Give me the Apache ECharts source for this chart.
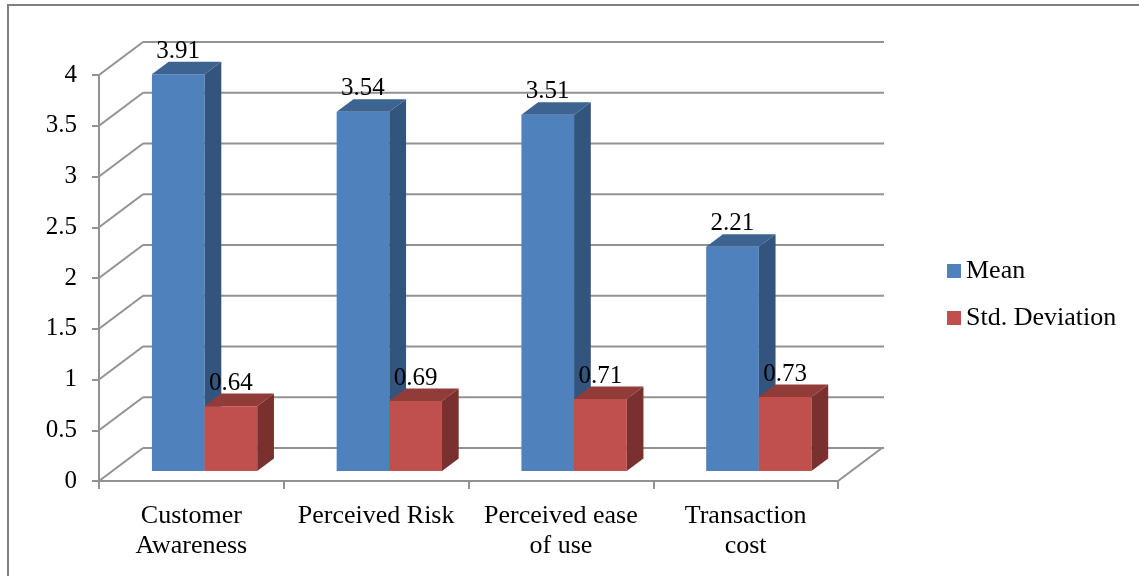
<!DOCTYPE html>
<html>
<head>
    <meta charset="utf-8" />
    <title></title>
    <script src="https://cdn.jsdelivr.net/npm/echarts@6/dist/echarts.min.js"></script>
    <style>
        html, body { margin: 0; padding: 0; background: #fff; }
    </style>
</head>
<body>
    <div id="divChart" style="width:1139px;height:576px;"></div>
    <script>
        let categories = ['Customer\nAwareness', 'Perceived Risk', 'Perceived ease\nof use', 'Transaction\ncost'];
        let meanData = [3.91, 3.54, 3.51, 2.21];
        let stdData = [0.64, 0.69, 0.71, 0.73];
        let yTicks = [0, 0.5, 1, 1.5, 2, 2.5, 3, 3.5, 4];

        // 伪3D深度
        let DX = 44, DY = -33;
        let FONT = 'Liberation Serif, Times New Roman, serif';

        function wallItem(params, api) {
            var cs = params.coordSys;
            var v = api.value(1);
            var y = api.coord([0, v])[1];
            var gx = cs.x, gw = cs.width;
            var lineStyle = { stroke: '#929292', lineWidth: 2 };
            var children = [
                { type: 'line', shape: { x1: gx, y1: y, x2: gx + DX, y2: y + DY }, style: lineStyle },
                { type: 'line', shape: { x1: gx + DX, y1: y + DY, x2: gx + gw + DX + 2, y2: y + DY }, style: lineStyle }
            ];
            if (v === 0) {
                children.push({ type: 'line', shape: { x1: gx + gw, y1: y, x2: gx + gw + DX, y2: y + DY }, style: lineStyle });
            }
            return { type: 'group', children: children };
        }

        function barRender(side, colors) {
            return function (params, api) {
                var i = api.value(0);
                var v = api.value(1);
                var base = api.coord([i, 0]);
                var top = api.coord([i, v]);
                var band = api.size([1, 0])[0];
                var bw = band * 0.285;
                var ox = DX * 0.3, oy = DY * 0.3;
                var ddx = DX * 0.38, ddy = DY * 0.38;
                var x0 = base[0] + ox + side * bw;
                var yT = top[1] + oy, yB = base[1] + oy;
                return {
                    type: 'group',
                    children: [
                        { type: 'rect', shape: { x: x0, y: yT, width: bw, height: yB - yT }, style: { fill: colors[0] } },
                        { type: 'polygon', shape: { points: [[x0 + bw, yT], [x0 + bw + ddx, yT + ddy], [x0 + bw + ddx, yB + ddy], [x0 + bw, yB]] }, style: { fill: colors[2] } },
                        { type: 'polygon', shape: { points: [[x0, yT], [x0 + ddx, yT + ddy], [x0 + bw + ddx, yT + ddy], [x0 + bw, yT]] }, style: { fill: colors[1] } },
                        { type: 'text', x: x0 + bw / 2, y: yT + ddy + 2, style: { text: v.toFixed(2), fill: '#000', font: '25px ' + FONT, align: 'center', verticalAlign: 'bottom' } }
                    ]
                };
            };
        }

        var option = {
            backgroundColor: '#fff',
            animation: false,
            graphic: [{
                type: 'rect',
                shape: { x: 8, y: 5, width: 1140, height: 590 },
                style: { fill: 'none', stroke: '#808080', lineWidth: 2 },
                silent: true
            }],
            legend: {
                data: ['Mean', 'Std. Deviation'],
                orient: 'vertical',
                left: 947,
                top: 258,
                padding: 0,
                icon: 'rect',
                itemWidth: 14,
                itemHeight: 14,
                itemGap: 21,
                textStyle: { fontFamily: FONT, fontSize: 26, color: '#000' }
            },
            grid: { left: 99, top: 75, width: 739, height: 406 },
            xAxis: {
                type: 'category',
                data: categories,
                axisLine: { lineStyle: { color: '#929292', width: 2 } },
                axisTick: { show: true, length: 8, lineStyle: { color: '#929292', width: 2 } },
                axisLabel: { interval: 0, margin: 20, fontFamily: FONT, fontSize: 26, lineHeight: 30, color: '#000' },
                splitLine: { show: false }
            },
            yAxis: {
                type: 'value',
                min: 0,
                max: 4,
                interval: 0.5,
                axisLine: { show: true, lineStyle: { color: '#929292', width: 2 } },
                axisTick: { show: true, length: 7, lineStyle: { color: '#929292', width: 2 } },
                axisLabel: { margin: 22, fontFamily: FONT, fontSize: 25, color: '#000' },
                splitLine: { show: false }
            },
            series: [
                {
                    name: 'walls',
                    type: 'custom',
                    silent: true,
                    z: 1,
                    renderItem: wallItem,
                    data: yTicks.map(function (v) { return [0, v]; })
                },
                {
                    name: 'Mean',
                    type: 'custom',
                    z: 3,
                    itemStyle: { color: '#4F81BD' },
                    renderItem: barRender(-1, ['#4F81BD', '#3D6391', '#32547D']),
                    data: meanData.map(function (v, i) { return [i, v]; })
                },
                {
                    name: 'Std. Deviation',
                    type: 'custom',
                    z: 4,
                    itemStyle: { color: '#C0504D' },
                    renderItem: barRender(0, ['#C0504D', '#923C3A', '#7A302E']),
                    data: stdData.map(function (v, i) { return [i, v]; })
                }
            ]
        };
        echarts.init(document.getElementById('divChart')).setOption(option);
    </script>
</body>
</html>
